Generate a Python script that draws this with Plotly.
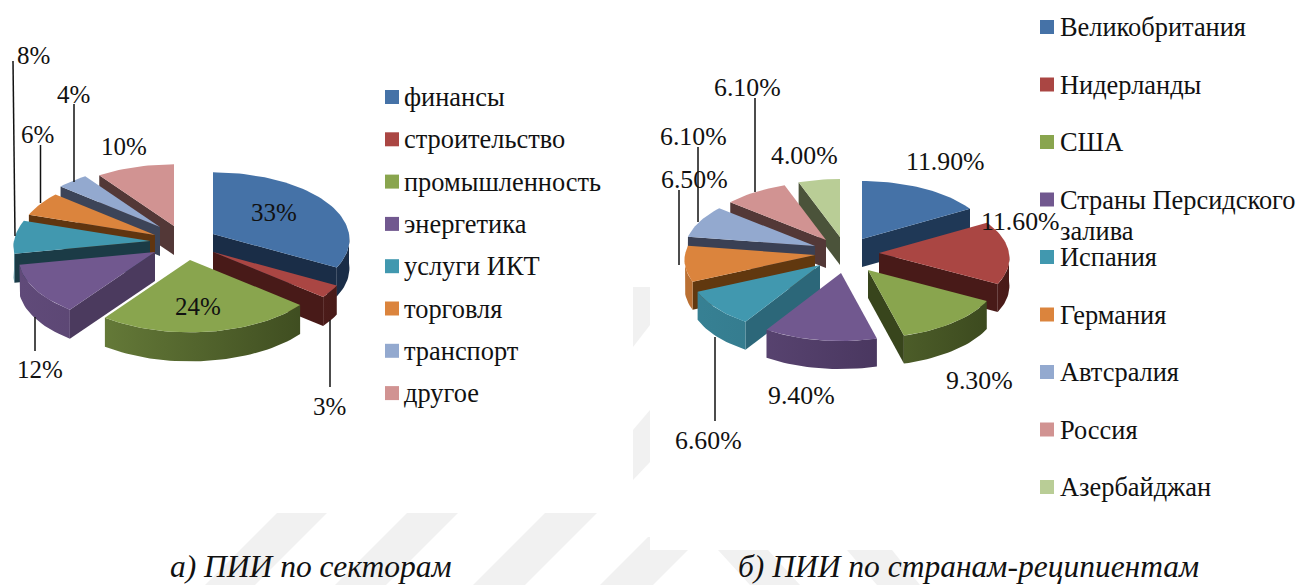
import math
import plotly.graph_objects as go

# left chart
sectors = ["финансы", "строительство", "промышленность", "энергетика",
           "услуги ИКТ", "торговля", "транспорт", "другое"]
sector_values = [33, 3, 24, 12, 8, 6, 4, 10]

# right chart
countries = ["Великобритания", "Нидерланды", "США", "Страны Персидского<br>залива",
             "Испания", "Германия", "Автсралия", "Россия", "Азербайджан"]
country_values = [11.9, 11.6, 9.3, 9.4, 6.6, 6.5, 6.1, 6.1, 4.0]

TOP = ["#4572A7", "#AA4643", "#89A54E", "#71588F", "#4198AF", "#DB843D", "#93A9CF", "#D19392", "#B9CD96"]
WALL_L = ["#1A2D47", "#481A18", "#38451C", "#4B3A5E", "#1B3B46", "#60350F", "#3C4458", "#533837"]
WALL_R = ["#1F3856", "#481A18", "#38451C", "#3A2A4E", "#2C6779", "#61380F", "#3A4054", "#533837", "#4B533A"]

# where each exploded slice has its apex, in page pixels
APEX_L = [(213, 234), (213, 252), (190, 260), (155, 252), (150, 241), (155, 235), (160, 227), (174, 226)]
APEX_R = [(862, 239), (879, 253), (868, 270), (841, 273), (820, 265), (815, 255), (815, 246), (826, 240), (840, 237)]

FONT = "Liberation Serif"
PERSP = 0.08


def point(apex, theta, rx, ry):
    c = -math.cos(theta)
    s = 1 + PERSP * c
    return apex[0] + rx * math.sin(theta) * s, apex[1] + ry * c * s


def arc(apex, a0, a1, rx, ry):
    n = max(2, int(math.degrees(a1 - a0) / 2))
    return [point(apex, a0 + (a1 - a0) * i / n, rx, ry) for i in range(n + 1)]


def poly(fig, pts, color=None, gradient=None):
    xs = [p[0] for p in pts] + [pts[0][0]]
    ys = [p[1] for p in pts] + [pts[0][1]]
    kw = {"fillgradient": gradient} if gradient else {"fillcolor": color}
    fig.add_trace(go.Scatter(x=xs, y=ys, mode="lines", fill="toself", line=dict(width=0),
                             showlegend=False, hoverinfo="skip", **kw))


def lighten(hex_color, k):
    r, g, b = [int(hex_color[i:i + 2], 16) for i in (1, 3, 5)]
    return "rgb(%d,%d,%d)" % (r * k, g * k, b * k)


def draw_pie(fig, values, apexes, walls, rx, ry, depth, x_span):
    total = sum(values)
    slices = []
    start = 0.0
    for i, v in enumerate(values):
        end = start + v / total * 2 * math.pi
        slices.append((i, start, end))
        start = end
    # back slices first
    slices.sort(key=lambda s: -math.cos((s[1] + s[2]) / 2))
    for i, a0, a1 in slices:
        apex = apexes[i]
        down = lambda p: (p[0], p[1] + depth)
        if a0 > math.pi:
            p = point(apex, a0, rx, ry)
            poly(fig, [apex, p, down(p), down(apex)], color=walls[i])
        if a1 < math.pi:
            p = point(apex, a1, rx, ry)
            poly(fig, [apex, p, down(p), down(apex)], color=walls[i])
        lo, hi = max(a0, math.pi / 2), min(a1, 3 * math.pi / 2)
        if hi > lo:
            rim = arc(apex, lo, hi, rx, ry)
            grad = dict(type="horizontal", start=x_span[0], stop=x_span[1],
                        colorscale=[[0, lighten(TOP[i], 0.85)], [1, walls[i]]])
            poly(fig, rim + [down(p) for p in reversed(rim)], gradient=grad)
        poly(fig, [apex] + arc(apex, a0, a1, rx, ry), color=TOP[i])


fig = go.Figure()

draw_pie(fig, sector_values, APEX_L, WALL_L, 136, 67, 29, (20, 340))
draw_pie(fig, country_values, APEX_R, WALL_R, 130, 63, 28, (690, 1010))

# legends
LEG_L = (392, 97, 42.3)
LEG_R = (1047, 27, 57.5)
for names, (lx, ly, step) in ((sectors, LEG_L), (countries, LEG_R)):
    fig.add_trace(go.Scatter(
        x=[lx] * len(names), y=[ly + step * i for i in range(len(names))],
        mode="markers", showlegend=False, hoverinfo="skip",
        marker=dict(symbol="square", size=14, color=TOP[:len(names)]),
    ))

annotations = []


def label(x, y, text, size=25, anchor="center", italic=False):
    annotations.append(dict(
        x=x, y=y, xref="x", yref="y", text=text, showarrow=False, xanchor=anchor, yanchor="middle",
        align="left", borderpad=0,
        font=dict(family=FONT, size=size, color="#111111", style="italic" if italic else "normal"),
    ))


for i, name in enumerate(sectors):
    label(LEG_L[0] + 11, LEG_L[1] + LEG_L[2] * i, name, size=26.4, anchor="left")
for i, name in enumerate(countries):
    for j, line in enumerate(name.split("<br>")):
        label(LEG_R[0] + 12, LEG_R[1] + LEG_R[2] * i + 31 * j, line, size=26.4, anchor="left")

POS_L = [(274, 212), (329, 406), (198, 306), (40, 369), (33, 55), (37, 134), (73, 94), (124, 146)]
POS_R = [(945, 161), (1020, 221), (979, 380), (801, 395), (708, 440), (694, 179), (693, 136), (747, 87), (804, 155)]
for v, (x, y) in zip(sector_values, POS_L):
    label(x, y, f"{v}%")
for v, (x, y) in zip(country_values, POS_R):
    label(x, y, f"{v:.2f}%", size=25.8)

label(311, 566, "а) ПИИ по секторам", size=31.5, italic=True)
label(968, 566, "б) ПИИ по странам-реципиентам", size=31.5, italic=True)

# leader lines
LEADERS = [((13, 61), (15, 236)), ((74, 104), (74, 182)), ((40.5, 145), (40.5, 203)),
           ((35, 317), (35, 351)), ((330, 320), (330, 387)),
           ((755, 98), (755, 192)), ((698, 147), (698, 222)), ((679, 190), (679, 265)),
           ((715, 337), (715, 421))]
shapes = [dict(type="line", x0=a[0], y0=a[1], x1=b[0], y1=b[1], xref="x", yref="y",
               line=dict(color="#111111", width=1.5), layer="above") for a, b in LEADERS]

# faint watermark behind the picture
WATERMARK = [
    [(277, 513), (327, 513), (255, 585), (205, 585)],
    [(407, 513), (458, 513), (386, 585), (335, 585)],
    [(545, 513), (597, 513), (525, 585), (473, 585)],
    [(648, 537), (650, 537), (650, 550), (688, 550), (653, 585), (600, 585)],
    [(718, 550), (768, 550), (800, 585), (750, 585)],
    [(847, 550), (892, 550), (920, 585), (877, 585)],
    [(633, 287), (650, 287), (650, 325), (633, 347)],
    [(650, 410), (650, 462), (633, 480), (633, 430)],
]
for pts in WATERMARK:
    path = "M" + " L".join(f"{x},{y}" for x, y in pts) + " Z"
    shapes.append(dict(type="path", path=path, xref="x", yref="y",
                       fillcolor="#F1F1F1", line=dict(width=0), layer="below"))

fig.update_layout(
    width=1301, height=585,
    margin=dict(l=0, r=0, t=0, b=0),
    paper_bgcolor="white", plot_bgcolor="white",
    xaxis=dict(range=[0, 1301], visible=False, fixedrange=True),
    yaxis=dict(range=[585, 0], visible=False, fixedrange=True),
    annotations=annotations, shapes=shapes,
)

fig.write_html("out.html", config={"displayModeBar": False},
               post_script="document.body.style.margin='0';")
